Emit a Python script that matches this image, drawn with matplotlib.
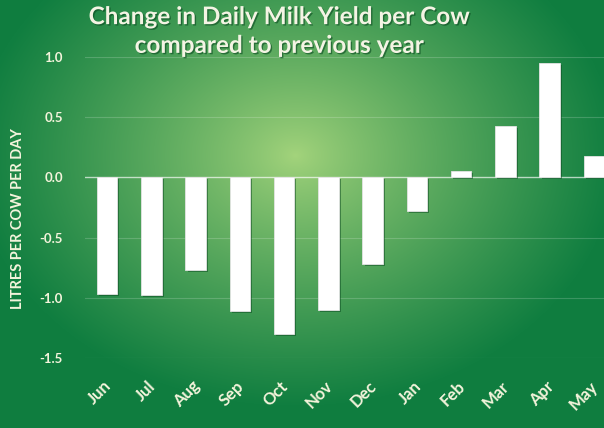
import numpy as np
import matplotlib
matplotlib.use("Agg")
import matplotlib.pyplot as plt
import matplotlib.patheffects as pe
import matplotlib.transforms as mtransforms

months = ["Jun", "Jul", "Aug", "Sep", "Oct", "Nov", "Dec", "Jan", "Feb", "Mar", "Apr", "May"]
change = [-0.97, -0.98, -0.77, -1.11, -1.30, -1.10, -0.72, -0.28, 0.05, 0.43, 0.95, 0.18]
yticks = [1.0, 0.5, 0.0, -0.5, -1.0, -1.5]

W, H = 604, 428
fig = plt.figure(figsize=(W / 100, H / 100), dpi=100)

# radial gradient background
bg = fig.add_axes([0, 0, 1, 1], zorder=0)
yy, xx = np.mgrid[0:H, 0:W]
cx, cy = 295, 155
r = np.sqrt(((xx - cx) / 320.0) ** 2 + ((yy - cy) / 250.0) ** 2)
t = np.clip(r, 0, 1) ** 0.85
c_in = np.array([0xa4, 0xd4, 0x7c]) / 255.0
c_out = np.array([0x10, 0x7e, 0x40]) / 255.0
img = c_in[None, None, :] * (1 - t[..., None]) + c_out[None, None, :] * t[..., None]
bg.imshow(img, aspect="auto", extent=[0, 1, 0, 1], origin="upper")
bg.axis("off")

ax = fig.add_axes([85 / W, (H - 358) / H, 531 / W, 301 / H], zorder=1)
ax.patch.set_alpha(0)
x = np.arange(len(months))
bars = ax.bar(x, change, width=0.46, color="white", edgecolor="#e4e4e4", linewidth=0.6, zorder=3)
for b in bars:
    b.set_path_effects([pe.SimplePatchShadow(offset=(1.5, -1.5), shadow_rgbFace="#0a4a20", alpha=0.5), pe.Normal()])

ax.set_xlim(-0.5, len(months) - 0.5)
ax.set_ylim(-1.5, 1.0)
ax.set_yticks(yticks)
ax.set_yticklabels([f"{v:.1f}" for v in yticks])
for v in yticks:
    ax.axhline(v, color=(1, 1, 1, 0.18), linewidth=0.8, zorder=1)
ax.axhline(0, color=(1, 1, 1, 0.6), linewidth=1.0, zorder=2)
for s in ax.spines.values():
    s.set_visible(False)
ax.tick_params(axis="both", length=0, colors="#f4f4dc")
ax.set_xticks(x)
ax.set_xticklabels([])
for lab in ax.get_yticklabels():
    lab.set_fontsize(9.5)
    lab.set_fontweight("bold")
    lab.set_family("Lato")
ax.tick_params(axis="y", pad=16)

# month labels, rotated 45 degrees below each bar
base = mtransforms.blended_transform_factory(ax.transData, ax.transAxes)
off = mtransforms.ScaledTranslation(-4 / 100, -20 / 100, fig.dpi_scale_trans)
for i, m in enumerate(months):
    ax.text(i, 0, m, transform=base + off, rotation=45, ha="right", va="top",
            rotation_mode="anchor", fontsize=12, fontweight="bold", family="Lato",
            color="#f4f4dc", clip_on=False)

fig.text(18 / W, 1 - 219 / H, "LITRES PER COW PER DAY", rotation=90, ha="center", va="center",
         fontsize=10.5, fontweight="bold", family="Lato", color="#f4f4dc")
fig.text(279 / W, 1 - 31 / H, "Change in Daily Milk Yield per Cow\ncompared to previous year",
         ha="center", va="center", fontsize=17.5, fontweight="bold", family="Lato",
         color="#f4f4e4", linespacing=1.3,
         path_effects=[pe.withSimplePatchShadow(offset=(1, -1), shadow_rgbFace="#0a4a20", alpha=0.6)])

fig.savefig("out.png", dpi=100)
